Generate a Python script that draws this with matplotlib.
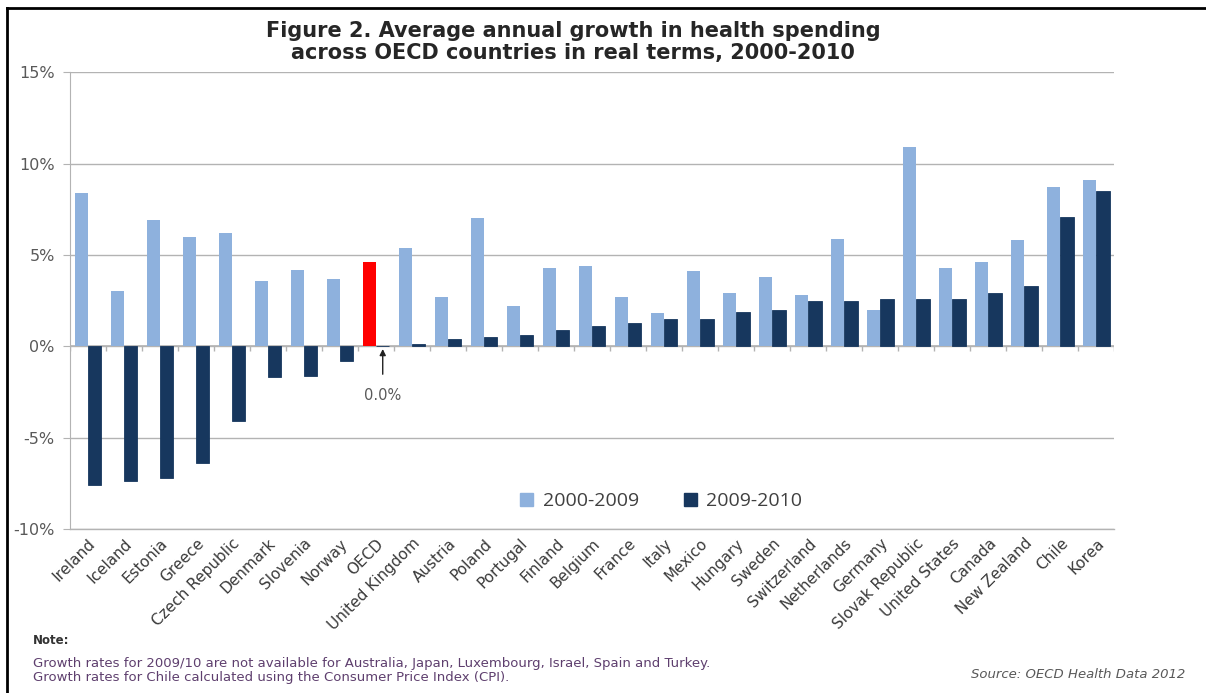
import matplotlib.pyplot as plt
import numpy as np
from matplotlib.lines import Line2D
from matplotlib.patches import Patch

countries = [
    "Ireland", "Iceland", "Estonia", "Greece", "Czech Republic", "Denmark",
    "Slovenia", "Norway", "OECD", "United Kingdom", "Austria", "Poland",
    "Portugal", "Finland", "Belgium", "France", "Italy", "Mexico", "Hungary",
    "Sweden", "Switzerland", "Netherlands", "Germany", "Slovak Republic",
    "United States", "Canada", "New Zealand", "Chile", "Korea",
]
growth_2000_2009 = [
    8.4, 3.0, 6.9, 6.0, 6.2, 3.6, 4.2, 3.7, 4.6, 5.4, 2.7, 7.0, 2.2, 4.3,
    4.4, 2.7, 1.8, 4.1, 2.9, 3.8, 2.8, 5.9, 2.0, 10.9, 4.3, 4.6, 5.8, 8.7, 9.1,
]
growth_2009_2010 = [
    -7.6, -7.4, -7.2, -6.4, -4.1, -1.7, -1.6, -0.8, 0.0, 0.1, 0.4, 0.5, 0.6,
    0.9, 1.1, 1.3, 1.5, 1.5, 1.9, 2.0, 2.5, 2.5, 2.6, 2.6, 2.6, 2.9, 3.3,
    7.1, 8.5,
]
highlight = "OECD"
y_ticks = [-10, -5, 0, 5, 10, 15]

LIGHT = "#8eb1dd"
DARK = "#17375e"
RED = "#ff0000"
GRID = "#b3b3b3"

plt.rcParams["font.family"] = ["DejaVu Sans"]

fig = plt.figure(figsize=(12.06, 6.93), dpi=100)
ax = fig.add_axes([0.058, 0.2367, 0.866, 0.659])

x = np.arange(len(countries))
w = 0.37
light_colors = [RED if c == highlight else LIGHT for c in countries]
ax.bar(x - w / 2, growth_2000_2009, width=w, color=light_colors, zorder=3)
ax.bar(x + w / 2, growth_2009_2010, width=w, color=DARK, zorder=3,
       edgecolor=DARK, linewidth=0.6)

ax.set_xlim(-0.5, len(countries) - 0.5)
ax.set_ylim(-10, 15)
ax.set_yticks(y_ticks)
ax.set_yticklabels([f"{t}%" for t in y_ticks], fontsize=11.5, color="#595959")
ax.tick_params(axis="y", length=5, color=GRID, pad=6)
ax.yaxis.grid(True, color=GRID, linewidth=1.0, zorder=0)
ax.axhline(-10, color=GRID, linewidth=1.0, zorder=0, clip_on=False)

ax.set_xticks(x)
ax.set_xticklabels(countries, rotation=45, ha="right", rotation_mode="anchor",
                   fontsize=11, color="#3a3a3a")
ax.tick_params(axis="x", length=0, pad=5)

for side in ["top", "right", "bottom"]:
    ax.spines[side].set_visible(False)
ax.spines["left"].set_color(GRID)

# category axis along zero with small boundary ticks
ax.axhline(0, color=GRID, linewidth=1.2, zorder=2)
bounds = np.arange(len(countries) + 1) - 0.5
ax.vlines(bounds, -0.25, 0, color=GRID, linewidth=1, zorder=2)

# callout for the OECD 2009-2010 value
i_oecd = countries.index(highlight)
val = growth_2009_2010[i_oecd]
ax.annotate(f"{val:.1f}%", xy=(i_oecd + w / 2, val - 0.15),
            xytext=(i_oecd + w / 2, -2.7), ha="center", va="center",
            fontsize=10.5, color="#595959",
            arrowprops=dict(arrowstyle="-|>", color="#222222", lw=1,
                            mutation_scale=9, shrinkA=8, shrinkB=0))

handles = [Patch(color=LIGHT), Patch(color=DARK)]
ax.legend(handles, ["2000-2009", "2009-2010"], loc="center left",
          bbox_to_anchor=(12.5 / 29, 0.061), ncol=2, frameon=False,
          borderpad=0, borderaxespad=0,
          prop={"family": "Open Sans", "size": 14}, handlelength=0.67,
          handleheight=0.67, handletextpad=0.5, columnspacing=2.3,
          labelcolor="#404040")

fig.text(0.475, 0.955, "Figure 2. Average annual growth in health spending",
         ha="center", va="center", fontsize=15, fontweight="bold",
         color="#262626")
fig.text(0.475, 0.923, "across OECD countries in real terms, 2000-2010",
         ha="center", va="center", fontsize=15, fontweight="bold",
         color="#262626")

fig.text(0.027, 0.076, "Note:", fontsize=8.5, fontweight="bold",
         color="#333333", va="center")
fig.text(0.027, 0.043,
         "Growth rates for 2009/10 are not available for Australia, Japan, "
         "Luxembourg, Israel, Spain and Turkey.",
         fontsize=9.5, color="#5e3f6e", va="center")
fig.text(0.027, 0.022,
         "Growth rates for Chile calculated using the Consumer Price Index (CPI).",
         fontsize=9.5, color="#5e3f6e", va="center")
fig.text(0.983, 0.027, "Source: OECD Health Data 2012", fontsize=9.5,
         style="italic", color="#595959", ha="right", va="center")

# frame edges of the exhibit
fig.add_artist(Line2D([0.006, 0.006], [0.0, 0.989], color="black", lw=2))
fig.add_artist(Line2D([0.006, 1.0], [0.989, 0.989], color="black", lw=2))

fig.savefig("out.png", dpi=100)
